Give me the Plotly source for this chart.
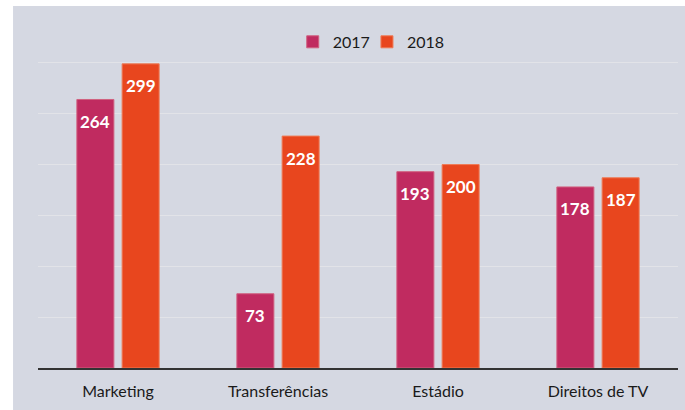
import plotly.graph_objects as go

categories = ["Marketing", "Transferências", "Estádio", "Direitos de TV"]
values_2017 = [264, 73, 193, 178]
values_2018 = [299, 228, 200, 187]
series_names = ["2017", "2018"]
colors = ["#C02B60", "#E8461E"]
line_colors = ["#D0607F", "#EF7A55"]
legend_ids = ["legend", "legend2"]

fig = go.Figure()
for name, vals, c, lc, lg in zip(series_names, [values_2017, values_2018], colors, line_colors, legend_ids):
    fig.add_trace(go.Bar(
        x=categories, y=vals, name=name, legend=lg, showlegend=True,
        marker=dict(color=c, line=dict(color=lc, width=1)),
    ))

# value labels
shifts = [-22.6, 22.6]
for vals, sh in zip([values_2017, values_2018], shifts):
    for cat, v in zip(categories, vals):
        fig.add_annotation(x=cat, y=v, text=f"<b>{v}</b>", showarrow=False,
                           xshift=sh, yshift=-22, yanchor="middle",
                           font=dict(family="Lato", size=17, color="white"))

# panel background
fig.add_shape(type="rect", xref="paper", yref="paper",
              x0=-0.039, x1=1.02, y0=-0.12, y1=1.017,
              fillcolor="#D5D8E2", line=dict(width=0), layer="below")

legend_style = dict(orientation="h", xanchor="left", y=0.916, yanchor="middle",
                    font=dict(size=16, color="#1A1A1A"), bgcolor="rgba(0,0,0,0)",
                    itemwidth=30, visible=True)

fig.update_layout(
    width=685, height=410,
    margin=dict(l=38, r=7, t=12, b=42),
    paper_bgcolor="white",
    plot_bgcolor="#D5D8E2",
    showlegend=True,
    barmode="group",
    bargap=0.434,
    bargroupgap=0.183,
    font=dict(family="Lato", size=16, color="#1A1A1A"),
    legend=dict(x=0.398, **legend_style),
    legend2=dict(x=0.514, **legend_style),
    xaxis=dict(showline=True, linecolor="#333333", linewidth=1.6,
               ticks="outside", ticklen=8, tickcolor="rgba(0,0,0,0)",
               tickfont=dict(size=16, color="#1A1A1A")),
    yaxis=dict(range=[0, 350], dtick=50, showgrid=True, gridcolor="#E2E3E8",
               gridwidth=1, showticklabels=False, zeroline=False, showline=False),
)

fig.write_html("out.html", config={"displayModeBar": False},
               post_script="document.body.style.margin='0';document.body.style.overflow='hidden';")
